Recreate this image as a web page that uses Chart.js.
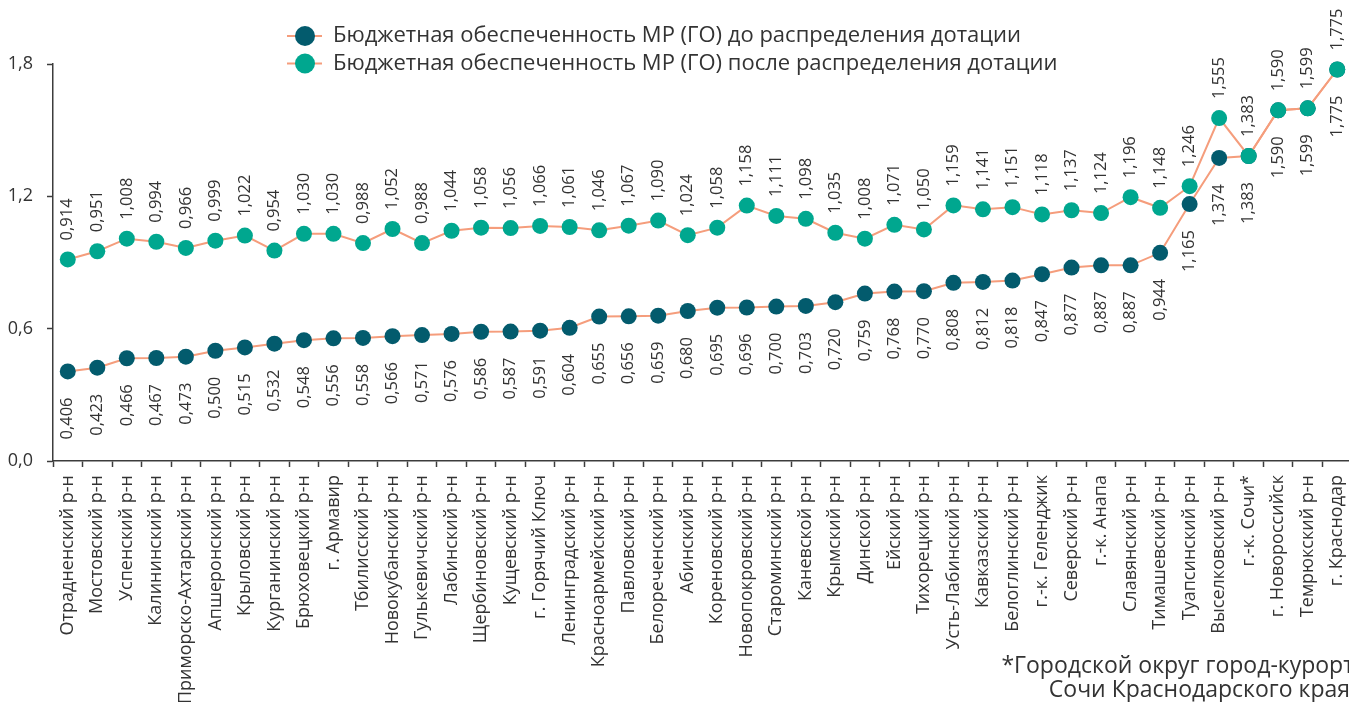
<!DOCTYPE html>
<html>
<head>
<meta charset="utf-8">
<script src="https://cdn.jsdelivr.net/npm/chart.js@4.4.0/dist/chart.umd.min.js"></script>
<style>
  html, body { margin: 0; padding: 0; background: #fff; overflow: hidden; }
  #wrap { width: 1349px; height: 702px; position: relative; overflow: hidden; }
</style>
</head>
<body>
<div id="wrap"><canvas id="chart" width="1360" height="702"></canvas></div>
<script>
const categories = [
  'Отрадненский р-н', 'Мостовский р-н', 'Успенский р-н', 'Калининский р-н',
  'Приморско-Ахтарский р-н', 'Апшеронский р-н', 'Крыловский р-н', 'Курганинский р-н',
  'Брюховецкий р-н', 'г. Армавир', 'Тбилисский р-н', 'Новокубанский р-н',
  'Гулькевичский р-н', 'Лабинский р-н', 'Щербиновский р-н', 'Кущевский р-н',
  'г. Горячий Ключ', 'Ленинградский р-н', 'Красноармейский р-н', 'Павловский р-н',
  'Белореченский р-н', 'Абинский р-н', 'Кореновский р-н', 'Новопокровский р-н',
  'Староминский р-н', 'Каневской р-н', 'Крымский р-н', 'Динской р-н',
  'Ейский р-н', 'Тихорецкий р-н', 'Усть-Лабинский р-н', 'Кавказский р-н',
  'Белоглинский р-н', 'г.-к. Геленджик', 'Северский р-н', 'г.-к. Анапа',
  'Славянский р-н', 'Тимашевский р-н', 'Туапсинский р-н', 'Выселковский р-н',
  'г.-к. Сочи*', 'г. Новороссийск', 'Темрюкский р-н', 'г. Краснодар'
];

const beforeValues = [
  0.406, 0.423, 0.466, 0.467, 0.473, 0.500, 0.515, 0.532, 0.548, 0.556, 0.558,
  0.566, 0.571, 0.576, 0.586, 0.587, 0.591, 0.604, 0.655, 0.656, 0.659, 0.680,
  0.695, 0.696, 0.700, 0.703, 0.720, 0.759, 0.768, 0.770, 0.808, 0.812, 0.818,
  0.847, 0.877, 0.887, 0.887, 0.944, 1.165, 1.374, 1.383, 1.590, 1.599, 1.775
];

const afterValues = [
  0.914, 0.951, 1.008, 0.994, 0.966, 0.999, 1.022, 0.954, 1.030, 1.030, 0.988,
  1.052, 0.988, 1.044, 1.058, 1.056, 1.066, 1.061, 1.046, 1.067, 1.090, 1.024,
  1.058, 1.158, 1.111, 1.098, 1.035, 1.008, 1.071, 1.050, 1.159, 1.141, 1.151,
  1.118, 1.137, 1.124, 1.196, 1.148, 1.246, 1.555, 1.383, 1.590, 1.599, 1.775
];

const yTicks = [0, 0.6, 1.2, 1.8];

const seriesNames = [
  'Бюджетная обеспеченность МР (ГО) до распределения дотации',
  'Бюджетная обеспеченность МР (ГО) после распределения дотации'
];

const footnote = ['*Городской округ город-курорт', 'Сочи Краснодарского края'];

const FONT = '"Open Sans", "Noto Sans", sans-serif';
const TEXT = '#333333';
const AXIS = '#3c3c3c';
const LINE = '#f59d7c';
const DARK = '#035b6d';
const TEAL = '#00a78f';

function fmt(v) {
  return v.toFixed(3).replace('.', ',');
}

// rotated value labels: "до" under the point, "после" above it
const valueLabels = {
  id: 'valueLabels',
  afterDatasetsDraw(chart) {
    const ctx = chart.ctx;
    ctx.save();
    ctx.font = '16.5px ' + FONT;
    ctx.fillStyle = TEXT;
    ctx.textBaseline = 'middle';
    chart.data.datasets.forEach((ds, di) => {
      const meta = chart.getDatasetMeta(di);
      meta.data.forEach((pt, i) => {
        ctx.save();
        ctx.translate(pt.x, pt.y);
        ctx.rotate(-Math.PI / 2);
        if (di === 0) {
          ctx.textAlign = 'right';
          ctx.fillText(fmt(ds.data[i]), -26, 0);
        } else {
          ctx.textAlign = 'left';
          ctx.fillText(fmt(ds.data[i]), 19, 0);
        }
        ctx.restore();
      });
    });
    ctx.restore();
  }
};

// legend and footnote drawn on top of the plot
const extras = {
  id: 'extras',
  afterDraw(chart) {
    const ctx = chart.ctx;
    ctx.save();
    chart.data.datasets.forEach((ds, i) => {
      const y = 36 + i * 27.5;
      ctx.strokeStyle = LINE;
      ctx.lineWidth = 2;
      ctx.beginPath();
      ctx.moveTo(287, y);
      ctx.lineTo(322, y);
      ctx.stroke();
      ctx.fillStyle = ds.pointBackgroundColor;
      ctx.beginPath();
      ctx.arc(305, y, 10, 0, Math.PI * 2);
      ctx.fill();
      ctx.fillStyle = TEXT;
      ctx.font = '22px ' + FONT;
      ctx.textAlign = 'left';
      ctx.textBaseline = 'middle';
      ctx.fillText(ds.label, 333, y);
    });
    ctx.font = '23px ' + FONT;
    ctx.fillStyle = TEXT;
    ctx.textAlign = 'right';
    ctx.textBaseline = 'middle';
    ctx.fillText(footnote[0], 1354, 666);
    ctx.fillText(footnote[1], 1350, 690);
    ctx.restore();
  }
};

new Chart(document.getElementById('chart'), {
  type: 'line',
  data: {
    labels: categories,
    datasets: [
      {
        label: seriesNames[0],
        data: beforeValues,
        borderColor: LINE,
        borderWidth: 2,
        pointBackgroundColor: DARK,
        pointBorderWidth: 0,
        pointRadius: 8,
        tension: 0,
        clip: false,
        order: 1
      },
      {
        label: seriesNames[1],
        data: afterValues,
        borderColor: LINE,
        borderWidth: 2,
        pointBackgroundColor: TEAL,
        pointBorderWidth: 0,
        pointRadius: 8,
        tension: 0,
        clip: false,
        order: 0
      }
    ]
  },
  options: {
    responsive: false,
    animation: false,
    maintainAspectRatio: false,
    layout: { padding: { top: 64, right: 0, left: 0, bottom: 0 } },
    plugins: {
      legend: { display: false },
      tooltip: { enabled: false }
    },
    scales: {
      x: {
        offset: true,
        grid: {
          offset: true,
          drawOnChartArea: false,
          color: AXIS,
          tickLength: 6,
          tickWidth: 1.5
        },
        border: { color: AXIS, width: 1.5 },
        ticks: {
          autoSkip: false,
          maxRotation: 90,
          minRotation: 90,
          padding: 8,
          color: TEXT,
          font: { family: FONT, size: 18 }
        },
        afterFit(scale) {
          scale.height = 241;
          scale.paddingLeft = 0;
          scale.paddingRight = 0;
        }
      },
      y: {
        min: 0,
        max: 1.8,
        afterBuildTicks(scale) {
          scale.ticks = yTicks.map(v => ({ value: v }));
        },
        grid: {
          drawOnChartArea: false,
          color: AXIS,
          tickLength: 6,
          tickWidth: 1.5
        },
        border: { color: AXIS, width: 1.5 },
        ticks: {
          padding: 14,
          color: TEXT,
          font: { family: FONT, size: 18 },
          callback: v => v.toFixed(1).replace('.', ',')
        },
        afterFit(scale) { scale.width = 53; }
      }
    }
  },
  plugins: [valueLabels, extras]
});
</script>
</body>
</html>
